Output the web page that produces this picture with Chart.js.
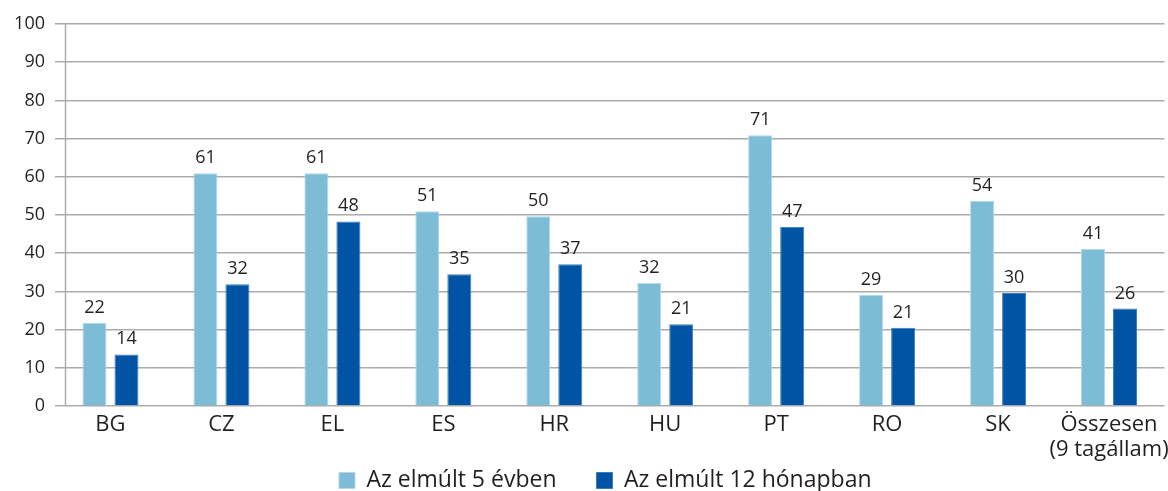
<!DOCTYPE html>
<html>
<head>
<meta charset="utf-8">
<script src="https://cdn.jsdelivr.net/npm/chart.js@4"></script>
<style>
  html, body { margin: 0; padding: 0; background: #fff; overflow: hidden; }
  #wrap { position: relative; width: 1168px; height: 502px; }
</style>
</head>
<body>
<div id="wrap"><canvas id="c"></canvas></div>
<script>
const categories = ["BG", "CZ", "EL", "ES", "HR", "HU", "PT", "RO", "SK", ["Összesen", "(9 tagállam)"]];
const seriesNames = ["Az elmúlt 5 évben", "Az elmúlt 12 hónapban"];
const last5Years = [21.8, 60.9, 60.9, 51.0, 49.7, 32.2, 70.9, 29.1, 53.7, 41.1];
const last12Months = [13.5, 31.9, 48.3, 34.5, 37.1, 21.4, 46.9, 20.5, 29.6, 25.5];
const yTicks = [0, 10, 20, 30, 40, 50, 60, 70, 80, 90, 100];

const FONT = "'Open Sans', 'Noto Sans', sans-serif";
const TEXT = "#231f20";
const GRID = "#ababab";

const valueLabels = {
  id: 'valueLabels',
  afterDatasetsDraw(chart) {
    const ctx = chart.ctx;
    ctx.save();
    ctx.font = "18px " + FONT;
    ctx.fillStyle = TEXT;
    ctx.textAlign = 'center';
    ctx.textBaseline = 'alphabetic';
    chart.data.datasets.forEach((ds, di) => {
      const meta = chart.getDatasetMeta(di);
      meta.data.forEach((bar, i) => {
        ctx.fillText(String(Math.round(ds.data[i])), bar.x, bar.y - 10);
      });
    });
    ctx.restore();
  }
};

const axisLine = {
  id: 'axisLine',
  afterDraw(chart) {
    const {ctx, chartArea} = chart;
    const x = Math.round(chartArea.left + 10) + 0.5;
    ctx.save();
    ctx.strokeStyle = GRID;
    ctx.lineWidth = 1.5;
    ctx.beginPath();
    ctx.moveTo(x, chartArea.top);
    ctx.lineTo(x, chartArea.bottom);
    ctx.stroke();
    ctx.restore();
  }
};

new Chart(document.getElementById('c'), {
  type: 'bar',
  data: {
    labels: categories,
    datasets: [
      {
        label: seriesNames[0],
        data: last5Years,
        backgroundColor: '#7dbcd7',
        borderColor: '#b0d9ea',
        borderWidth: 1,
        categoryPercentage: 0.577,
        barPercentage: 0.75
      },
      {
        label: seriesNames[1],
        data: last12Months,
        backgroundColor: '#0054a3',
        borderColor: '#3b7cbd',
        borderWidth: 1,
        categoryPercentage: 0.577,
        barPercentage: 0.75
      }
    ]
  },
  options: {
    responsive: true,
    maintainAspectRatio: false,
    animation: false,
    devicePixelRatio: 1,
    layout: { padding: { top: 24, left: 46, right: 3.5, bottom: 0 } },
    plugins: {
      tooltip: { enabled: false },
      legend: {
        position: 'bottom',
        labels: {
          font: { family: FONT, size: 23 },
          color: TEXT,
          boxWidth: 16,
          boxHeight: 16,
          padding: 40
        }
      }
    },
    scales: {
      x: {
        grid: { display: false, drawTicks: false },
        border: { display: false },
        ticks: {
          font: { family: FONT, size: 22, lineHeight: 1.1 },
          color: TEXT,
          padding: 7,
          maxRotation: 0,
          autoSkip: false
        },
        afterFit(scale) {
          scale.height = 23;
          scale.paddingLeft = 0;
          scale.paddingRight = 0;
          scale._computeLabelArea = () => undefined;
        }
      },
      y: {
        min: 0,
        max: 100,
        afterBuildTicks(scale) { scale.ticks = yTicks.map(v => ({ value: v })); },
        grid: { color: GRID, lineWidth: 1.5, drawTicks: false },
        border: { display: false },
        ticks: {
          font: { family: FONT, size: 18 },
          color: TEXT,
          padding: 10
        },
        afterFit(scale) {
          scale.width = 9;
          scale._computeLabelArea = () => undefined;
        }
      }
    }
  },
  plugins: [valueLabels, axisLine]
});
</script>
</body>
</html>
